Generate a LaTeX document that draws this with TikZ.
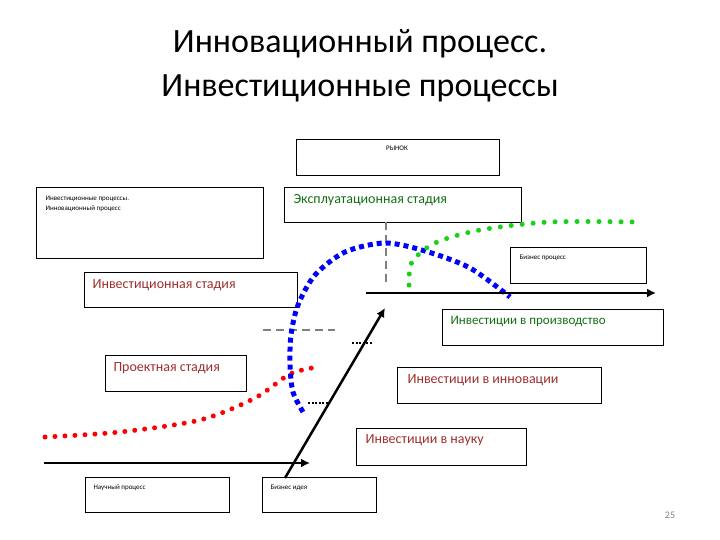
\documentclass[tikz,border=0pt]{standalone}
\usepackage{fontspec}
\usetikzlibrary{arrows.meta}
\setmainfont{Carlito}
\begin{document}
\begin{tikzpicture}[x=1pt,y=-1pt,
  box/.style={draw,line width=0.8pt,inner sep=0pt},
  lbl/.style={anchor=north west,font=\fontsize{14}{16}\selectfont},
  tiny/.style={anchor=north west,font=\fontsize{7}{10}\selectfont,align=left},
  arr/.style={line width=2.5pt,-{Latex[length=9pt,width=9pt]}}]
\useasboundingbox (0,0) rectangle (720,540);
\node[font=\fontsize{34}{44}\selectfont,align=center] (title) at (360,66) {Инновационный процесс.\\Инвестиционные процессы};
\definecolor{dg}{RGB}{20,110,20}
\definecolor{rb}{RGB}{160,45,45}
% boxes
\draw[box] (296,139) rectangle (499,175);
\node[font=\fontsize{7}{8}\selectfont] (rynok) at (397,148) {РЫНОК};
\draw[box] (36,187) rectangle (263,258);
\node[tiny] (ip) at (42,192) {Инвестиционные процессы.\\Инновационный процесс};
\draw[box] (284,187) rectangle (521,222);
\node[lbl,text=dg] (ex) at (290,191) {Эксплуатационная стадия};
\draw[box] (510,247) rectangle (646,283);
\node[tiny] (bp) at (516,251) {Бизнес процесс};
\draw[box] (84,272) rectangle (297,307);
\node[lbl,text=rb] (is) at (89,276) {Инвестиционная стадия};
\draw[box] (442,309) rectangle (663,345);
\node[lbl,text=dg,font=\fontsize{13}{15}\selectfont] (ipr) at (447,313) {Инвестиции в производство};
\draw[box] (105,355) rectangle (246,391);
\node[lbl,text=rb] (ps) at (110,359) {Проектная стадия};
\draw[box] (397,367) rectangle (601,403);
\node[lbl,text=rb] (iin) at (404,371) {Инвестиции в инновации};
\draw[box] (356,428) rectangle (526,465);
\node[lbl,text=rb] (ins) at (362,431) {Инвестиции в науку};
\draw[box] (85,477) rectangle (229,512);
\node[tiny] (np) at (90,481) {Научный процесс};
\draw[box] (262,477) rectangle (376,512);
\node[tiny] (bi) at (267,481) {Бизнес идея};
\node[text=gray,font=\fontsize{10}{12}\selectfont] (pg) at (670,515) {25};
% dashed guides
\draw[gray,line width=2pt,dash pattern=on 8pt off 5pt] (386,222) -- (386,282);
\draw[gray,line width=1.5pt,dash pattern=on 8pt off 5pt] (263,330) -- (335,330);
\draw[line width=1.2pt,dash pattern=on 2pt off 1.5pt] (352,343) -- (373,343);
\draw[line width=1.2pt,dash pattern=on 2pt off 1.5pt] (308,403) -- (328,403);
% curves
\draw[red,line width=5pt,line cap=round,dash pattern=on 0pt off 10pt]
  plot[smooth] coordinates {(45,437) (120,432) (200,420) (255,398) (290,374) (318,367)};
\draw[blue,line width=5pt,dash pattern=on 5pt off 4pt]
  plot[smooth] coordinates {(303,412) (293,392) (290,365) (291,335) (298,305) (315,275) (345,252) (385,243) (425,251) (470,268) (510,297)};
\draw[green!80!black!90,line width=5pt,line cap=round,dash pattern=on 0pt off 11pt]
  plot[smooth] coordinates {(409,285) (412,262) (435,243) (480,230) (550,222) (635,222)};
% arrows
\coordinate (a1) at (44,463); \coordinate (a2) at (310,463);
\coordinate (d1) at (285,478); \coordinate (d2) at (385,308);
\coordinate (u1) at (366,293); \coordinate (u2) at (656,293);
\draw[arr] (a1) -- (a2);
\draw[arr] (d1) -- (d2);
\draw[arr] (u1) -- (u2);
\end{tikzpicture}
\end{document}
